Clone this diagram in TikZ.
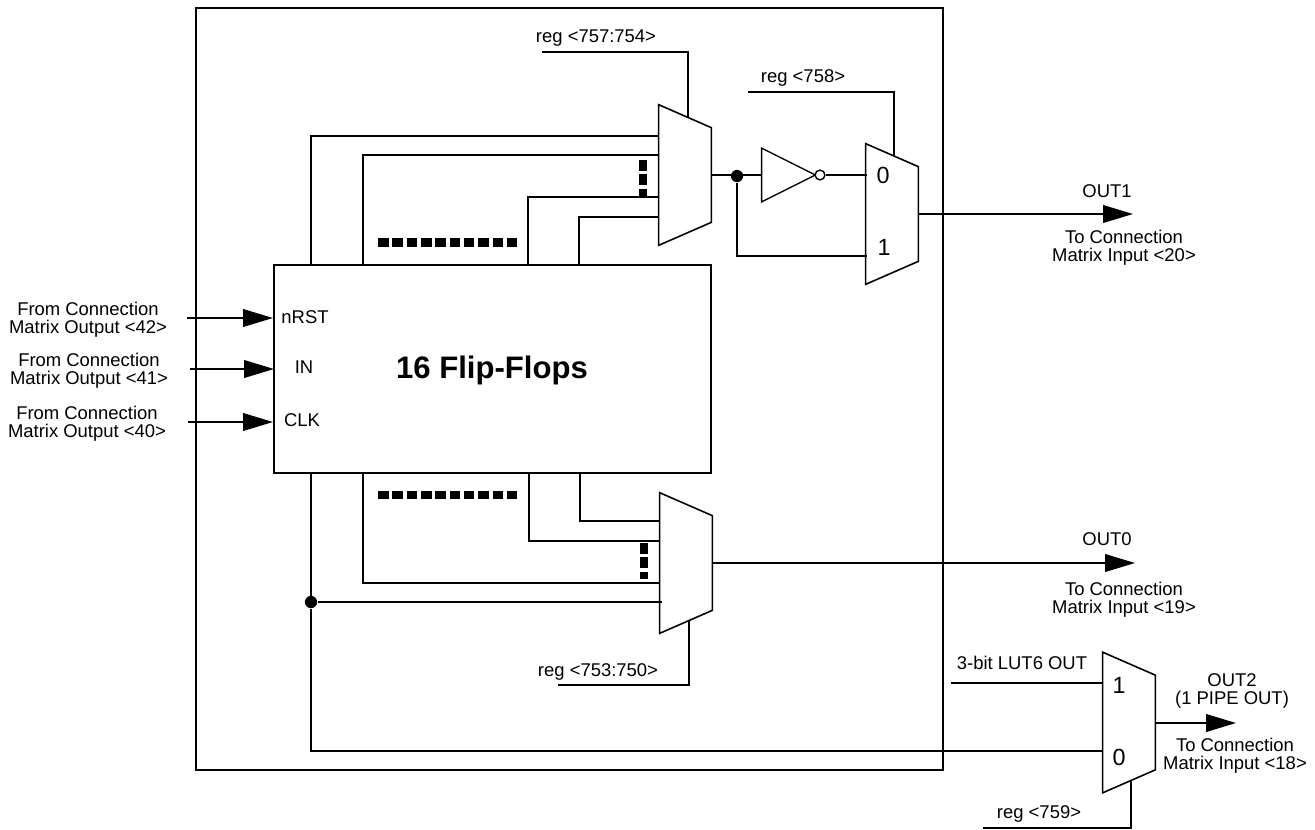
\documentclass[tikz,border=0pt]{standalone}
\usepackage{fontspec}
\setmainfont{Liberation Sans}
\usetikzlibrary{arrows.meta}
\tikzset{
  wire/.style={line width=1.05pt},
  feed/.style={line width=1.05pt,-{Triangle[length=17pt,width=10pt]}},
  blockbox/.style={draw,line width=1.05pt},
  muxbox/.style={minimum width=1.04cm,minimum height=2.8cm,inner sep=0pt,
    append after command={\pgfextra{\let\muxnode\tikzlastnode
      \draw[line width=0.9pt,line join=miter] (\muxnode.north west) -- ([yshift=-0.46cm]\muxnode.north east)
        -- ([yshift=0.46cm]\muxnode.south east) -- (\muxnode.south west) -- cycle;}}},
  invbox/.style={minimum width=1.06cm,minimum height=1.06cm,inner sep=0pt,
    append after command={\pgfextra{\let\invnode\tikzlastnode
      \draw[line width=0.8pt] (\invnode.north west) -- (\invnode.east) -- (\invnode.south west) -- cycle;}}},
  dashbar/.style={line width=4.8pt,dash pattern=on 6pt off 2.15pt},
  lbl/.style={font=\fontsize{10.5}{10.4}\selectfont,align=center,inner sep=0pt},
  portnum/.style={font=\fontsize{13.3}{14}\selectfont,inner sep=0pt},
  dotnode/.style={circle,fill=black,inner sep=0pt,minimum size=7pt}
}
\begin{document}
\begin{tikzpicture}[x=0.02cm,y=-0.02cm]
\node[blockbox,minimum width=14.94cm,minimum height=15.24cm,inner sep=0pt] (outer) at (569.5,389) {};
\node[blockbox,minimum width=8.74cm,minimum height=4.16cm,inner sep=0pt] (ff) at (492.5,369) {};
\node[font=\fontsize{17.7}{20}\selectfont\bfseries,inner sep=0pt] (fflabel) at (492,370) {16 Flip-Flops};
\node[muxbox] (muxa) at (685,175) {};
\node[muxbox] (muxb) at (892,214) {};
\node[muxbox] (muxc) at (686,563) {};
\node[muxbox] (muxd) at (1129,722.5) {};
\node[invbox] (inv) at (788.5,175) {};
\node[draw,line width=0.8pt,circle,fill=white,inner sep=0pt,minimum size=5.6pt] (bubble) at (820,175) {};
\coordinate (ffa1) at (311,265);
\coordinate (ffa2) at (363,265);
\coordinate (ffa3) at (528,265);
\coordinate (ffa4) at (579,265);
\coordinate (ffc1) at (580,473);
\coordinate (ffc2) at (529,473);
\coordinate (ffc3) at (363,473);
\coordinate (ffc4) at (311,473);
\coordinate (muxain1) at (659,136);
\coordinate (muxain2) at (659,155);
\coordinate (muxain3) at (659,197);
\coordinate (muxain4) at (659,217);
\coordinate (muxcin1) at (660,521);
\coordinate (muxcin2) at (660,541);
\coordinate (muxcin3) at (660,583);
\coordinate (muxcin4) at (662,602);
\coordinate (muxaout) at (711,175);
\coordinate (muxbin0) at (867,175);
\coordinate (muxbin1) at (867,256);
\coordinate (muxbout) at (918,214);
\coordinate (muxcout) at (712,563);
\coordinate (muxdin1) at (1103,683);
\coordinate (muxdin0) at (1103,751);
\coordinate (muxdout) at (1155,723);
\coordinate (muxasel) at (688,118);
\coordinate (muxbsel) at (894,156);
\coordinate (muxcsel) at (689,620);
\coordinate (muxdsel) at (1131,780);
\coordinate (rega) at (542,52);
\coordinate (regb) at (748,92);
\coordinate (regc) at (558,685);
\coordinate (regd) at (983,828);
\coordinate (lut) at (951,683);
\coordinate (out1) at (1133,214);
\coordinate (out0) at (1135,563);
\coordinate (out2) at (1236,723);
\coordinate (nrstin) at (187,318);
\coordinate (inin) at (190,369);
\coordinate (clkin) at (188,422);
\coordinate (nrstpin) at (273,318);
\coordinate (inpin) at (274,369);
\coordinate (clkpin) at (273,422);
\node[dotnode] (dota) at (737,176) {};
\node[dotnode] (dotc) at (311,602) {};
\draw[wire] (ffa1) |- (muxain1);
\draw[wire] (ffa2) |- (muxain2);
\draw[wire] (ffa3) |- (muxain3);
\draw[wire] (ffa4) |- (muxain4);
\draw[wire] (ffc1) |- (muxcin1);
\draw[wire] (ffc2) |- (muxcin2);
\draw[wire] (ffc3) |- (muxcin3);
\draw[wire] (ffc4) -- (dotc);
\draw[wire] (dotc) -- (muxcin4);
\draw[wire] (dotc) |- (muxdin0);
\draw[wire] (muxaout) -- (inv.west);
\draw[wire] (bubble) -- (muxbin0);
\draw[wire] (dota) |- (muxbin1);
\draw[wire] (rega) -| (muxasel);
\draw[wire] (regb) -| (muxbsel);
\draw[wire] (regc) -| (muxcsel);
\draw[wire] (regd) -| (muxdsel);
\draw[wire] (lut) -- (muxdin1);
\draw[feed] (muxbout) -- (out1);
\draw[feed] (muxcout) -- (out0);
\draw[feed] (muxdout) -- (out2);
\draw[feed] (nrstin) -- (nrstpin);
\draw[feed] (inin) -- (inpin);
\draw[feed] (clkin) -- (clkpin);
\draw[dashbar] (378,242.5) -- (517.5,242.5);
\draw[dashbar] (378,495) -- (517.5,495);
\draw[dashbar] (643,160) -- (643,196);
\draw[dashbar] (644,543) -- (644,579);
\node[portnum] (muxb0) at (883,175) {0};
\node[portnum] (muxb1) at (884,247) {1};
\node[portnum] (muxd1) at (1119,685) {1};
\node[portnum] (muxd0) at (1119,757) {0};
\node[lbl] (nrstlabel) at (305,317) {nRST};
\node[lbl] (inlabel) at (304,367) {IN};
\node[lbl] (clklabel) at (302,420) {CLK};
\node[lbl] (nrsttext) at (88,320) {From Connection\\Matrix Output <42>};
\node[lbl] (intext) at (89,371) {From Connection\\Matrix Output <41>};
\node[lbl] (clktext) at (87,424) {From Connection\\Matrix Output <40>};
\node[lbl] (regatext) at (596,38) {reg <757:754>};
\node[lbl] (regbtext) at (803,78) {reg <758>};
\node[lbl] (regctext) at (598,672) {reg <753:750>};
\node[lbl] (regdtext) at (1039,814) {reg <759>};
\node[lbl] (luttext) at (1022,663) {3-bit LUT6 OUT};
\node[lbl] (out1name) at (1107,191) {OUT1};
\node[lbl] (out1text) at (1124,248) {To Connection\\Matrix Input <20>};
\node[lbl] (out0name) at (1107,539) {OUT0};
\node[lbl] (out0text) at (1124,600) {To Connection\\Matrix Input <19>};
\node[lbl] (out2name) at (1232,691) {OUT2\\(1 PIPE OUT)};
\node[lbl] (out2text) at (1235,756) {To Connection\\Matrix Input <18>};
\path (0,0) rectangle (1315,829);
\end{tikzpicture}
\end{document}
